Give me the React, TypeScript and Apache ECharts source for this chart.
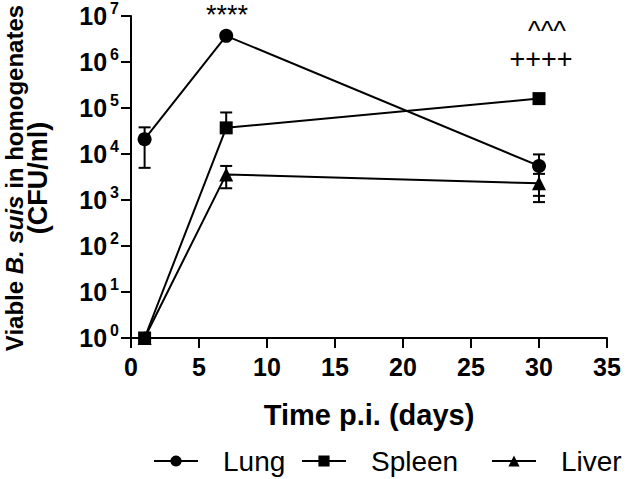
import React, { useEffect, useRef } from "react";
import * as echarts from "echarts";

const days = [1, 7, 30];
const lungValues = [21000, 3700000, 5500];
const spleenValues = [1, 37000, 160000];
const liverValues = [1, 3600, 2300];
// error bars: [day, low, high, drawLowCap]
const lungErrors = [
  [1, 5000, 38000, 1],
  [30, 1230, 9800, 1],
];
const spleenErrors = [[7, 37000, 80000, 0]];
const liverErrors = [
  [7, 1800, 5500, 1],
  [30, 900, 3700, 1],
];
const xTicks = [0, 5, 10, 15, 20, 25, 30, 35];
const seriesNames = ["Lung", "Spleen", "Liver"];
const annotations = [
  { text: "****", x: 227, y: 15 },
  { text: "^^^", x: 547, y: 31 },
  { text: "++++", x: 541, y: 59 },
];

const FONT = "Liberation Sans, Arial, Helvetica, sans-serif";

function errorSeries(data: number[][], z: number) {
  return {
    type: "custom",
    data,
    z,
    silent: true,
    encode: { x: 0, y: [1, 2] },
    renderItem: (params: any, api: any) => {
      const x = api.value(0);
      const lo = api.coord([x, api.value(1)]);
      const hi = api.coord([x, api.value(2)]);
      const w = 6;
      const st = { stroke: "#000", lineWidth: 2 };
      const children: any[] = [
        { type: "line", shape: { x1: lo[0], y1: lo[1], x2: hi[0], y2: hi[1] }, style: st },
        { type: "line", shape: { x1: hi[0] - w, y1: hi[1], x2: hi[0] + w, y2: hi[1] }, style: st },
      ];
      if (api.value(3)) {
        children.push({ type: "line", shape: { x1: lo[0] - w, y1: lo[1], x2: lo[0] + w, y2: lo[1] }, style: st });
      }
      return { type: "group", children };
    },
  };
}

function lineSeries(name: string, values: number[], symbol: string, size: number, z: number) {
  return {
    name,
    type: "line",
    data: days.map((d, i) => [d, values[i]]),
    symbol,
    symbolSize: size,
    showAllSymbol: true,
    z,
    lineStyle: { color: "#000", width: 2 },
    itemStyle: { color: "#000", borderWidth: 0 },
    emphasis: { disabled: true },
  };
}

export default function App() {
  const ref = useRef<HTMLDivElement>(null);
  useEffect(() => {
    if (!ref.current) return;
    const chart = echarts.init(ref.current, null, { renderer: "svg" });
    const legendBase = {
      top: 442,
      itemWidth: 44,
      itemHeight: 14,
      textStyle: { fontFamily: FONT, fontSize: 28, color: "#000", padding: [0, 0, 0, 20] },
      selectedMode: false,
    };
    chart.setOption({
      animation: false,
      backgroundColor: "#fff",
      textStyle: { fontFamily: FONT },
      grid: { left: 131, right: 23, top: 16, bottom: 141, containLabel: false },
      xAxis: {
        type: "value",
        min: xTicks[0],
        max: xTicks[xTicks.length - 1],
        interval: 5,
        axisLine: { show: true, lineStyle: { color: "#000", width: 2 } },
        axisTick: { show: true, length: 10, lineStyle: { color: "#000", width: 2 } },
        axisLabel: { color: "#000", fontSize: 25, fontWeight: "bold", fontFamily: FONT, margin: 16 },
        splitLine: { show: false },
        name: "Time p.i. (days)",
        nameLocation: "middle",
        nameGap: 62,
        nameTextStyle: { color: "#000", fontSize: 29, fontWeight: "bold", fontFamily: FONT },
      },
      yAxis: {
        type: "log",
        logBase: 10,
        min: 1,
        max: 10000000,
        interval: 1,
        axisLine: { show: true, lineStyle: { color: "#000", width: 2 } },
        axisTick: { show: true, length: 10, lineStyle: { color: "#000", width: 2 } },
        axisLabel: {
          margin: 12,
          formatter: (v: number) => `{b|10}{e|${Math.round(Math.log10(v))}}`,
          rich: {
            b: { fontSize: 25, fontWeight: "bold", color: "#000", fontFamily: FONT, lineHeight: 32 },
            e: { fontSize: 16, fontWeight: "bold", color: "#000", fontFamily: FONT, lineHeight: 16, verticalAlign: "top", padding: [0, 0, 0, 3] },
          },
        },
        splitLine: { show: false },
      },
      legend: [
        { ...legendBase, left: 148, data: [seriesNames[0]] },
        { ...legendBase, left: 296, data: [seriesNames[1]] },
        { ...legendBase, left: 486, data: [seriesNames[2]] },
      ],
      graphic: [
        {
          type: "text",
          x: 26,
          y: 178,
          rotation: Math.PI / 2,
          style: {
            text: "{n|Viable }{i|B. suis}{n| in homogenates}\n{m|(CFU/ml)}",
            textAlign: "center",
            textVerticalAlign: "middle",
            rich: {
              n: { fontSize: 24, fontWeight: "bold", fontFamily: FONT, fill: "#000", lineHeight: 24 },
              i: { fontSize: 24, fontWeight: "bold", fontStyle: "italic", fontFamily: FONT, fill: "#000", lineHeight: 24 },
              m: { fontSize: 27, fontWeight: "bold", fontFamily: FONT, fill: "#000", lineHeight: 24 },
            },
          },
        },
        ...annotations.map((a) => ({
          type: "text",
          x: a.x,
          y: a.y,
          style: { text: a.text, fontSize: 27, fontFamily: FONT, fill: "#000", textAlign: "center", textVerticalAlign: "middle" },
        })),
      ],
      series: [
        errorSeries(lungErrors, 1),
        errorSeries(spleenErrors, 1),
        errorSeries(liverErrors, 1),
        lineSeries(seriesNames[0], lungValues, "circle", 14, 4),
        lineSeries(seriesNames[2], liverValues, "triangle", 14, 3),
        lineSeries(seriesNames[1], spleenValues, "rect", 13, 5),
      ],
    });
    return () => chart.dispose();
  }, []);
  return <div ref={ref} style={{ position: "fixed", left: 0, top: 0, width: 630, height: 479 }} />;
}
